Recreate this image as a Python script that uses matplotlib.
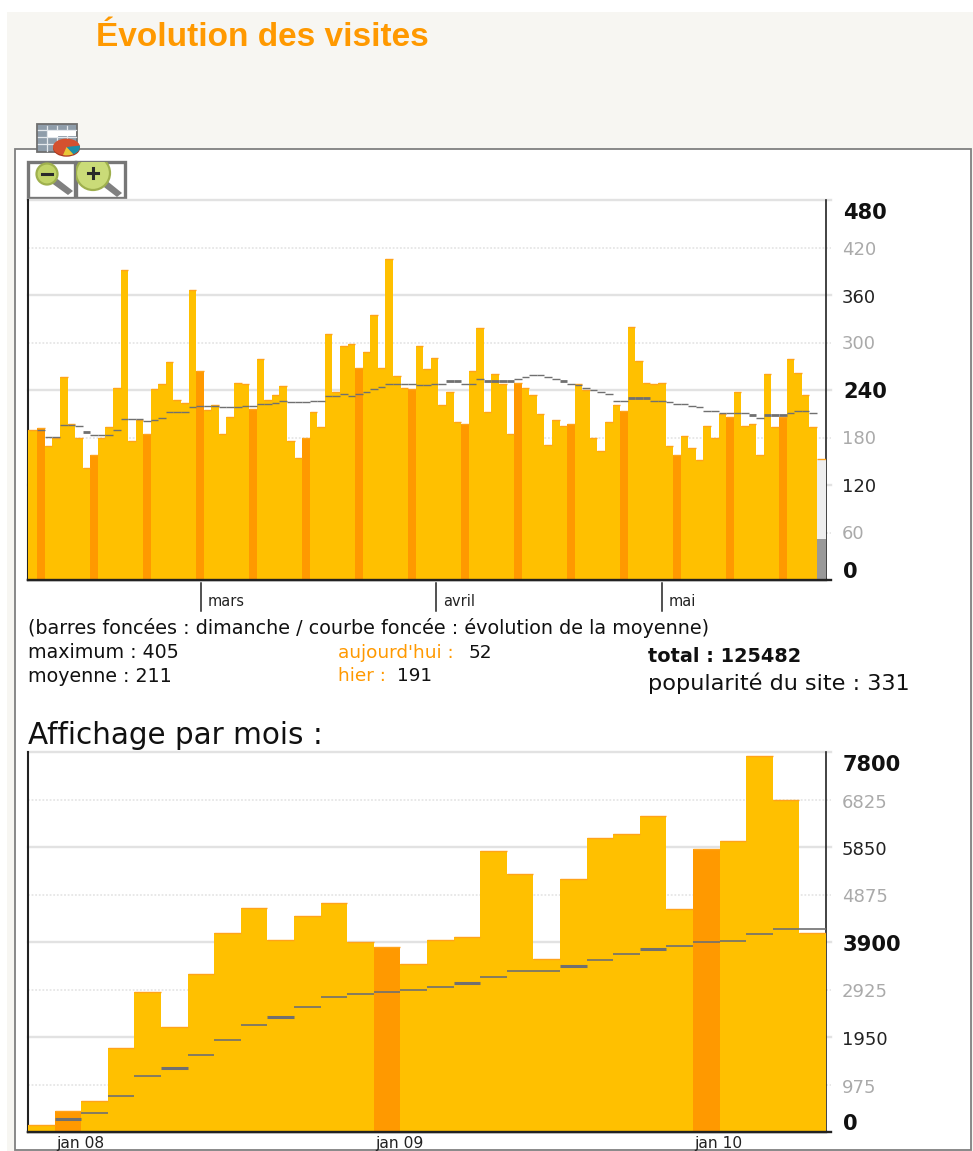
import numpy as np
import matplotlib
matplotlib.use("Agg")
import matplotlib.pyplot as plt
from matplotlib.patches import Rectangle, Circle, Wedge, Polygon, Ellipse
from matplotlib.transforms import Affine2D

W, H = 973, 1151
DPI = 100

# ---- data ----
daily_visits = [189,192,169,180,256,197,180,141,158,180,193,242,392,176,202,184,241,247,275,227,
                223,366,264,215,221,184,206,249,247,216,279,227,234,245,176,154,180,212,193,311,
                238,296,298,268,288,335,268,406,258,243,241,296,266,281,221,238,199,197,264,318,
                212,260,247,184,249,243,234,210,171,202,195,197,247,240,180,163,199,221,214,320,
                277,249,247,249,169,158,182,167,152,195,180,210,206,238,195,197,158,260,193,206,
                279,262,234,193]
today_visits = 52
today_forecast = 153
daily_sundays = [1,8,15,22,29,36,43,50,57,64,71,78,85,92,99]
daily_avg = [None,190,181,181,196,196,194,186.5,183,183,183,190,203,203,203,201,202.5,205,212,212,
             212,218,220,220,220,218,218,218,220,220,222,222,224,226.5,224.5,224.5,224.5,226.5,226.5,233,
             233,235,233,235,237,241,243.5,248,248,248,248,246,246,248,248,252,252,248,248,254,
             251,251,251,251,254,257,259,259,257,254,251,248,246,242,240,237,235,226.5,226.5,230,
             230,230,226.5,226.5,224.5,222,222,220,218,213.5,213.5,211,211,211,211,208,205,208,208,208,
             211,213.5,213.5,211]
daily_avg_thick = [7,55,56,60,61,62,63,70,79,80,81,95,97,98,99]
month_ticks = {"mars": 22.7, "avril": 53.7, "mai": 83.6}

monthly_visits = [144,431,643,1731,2880,2148,3236,4078,4605,3934,4427,4707,3907,3797,3448,3934,
                  4003,5761,5303,3551,5200,6041,6110,6493,4570,5802,5973,7725,6815,4078]
monthly_avg = [None,260,383,732,1149,1307,1574,1888,2203,2360,2559,2764,2833,2867,2908,2976,
               3065,3188,3298,3298,3414,3537,3647,3763,3818,3893,3927,4064,4167,4167]
monthly_avg_thick = [1,5,9,16,20,23]
monthly_dark = [1,13,25]
year_ticks = {"jan 08": 1, "jan 09": 13, "jan 10": 25}

daily_ticks = [480,420,360,300,240,180,120,60,0]
monthly_ticks = [7800,6825,5850,4875,3900,2925,1950,975,0]

# ---- colours ----
BAR = "#FFC000"
DARK = "#FF9900"
CAP = "#FFA31A"
AVG = "#707070"
GRID = "#E2E2E2"
DOT = "#E6E6E6"
PAGE = "#F7F6F2"
FRAME = "#808080"

plt.rcParams["font.family"] = ["DejaVu Sans"]

fig = plt.figure(figsize=(W/DPI, H/DPI), dpi=DPI, facecolor="white")

def fx(x): return x/W
def fy(y): return 1-y/H
def pt(px): return px*72/DPI

# background overlay in pixel coordinates
bg = fig.add_axes([0,0,1,1], zorder=0)
bg.set_xlim(0,W); bg.set_ylim(H,0); bg.axis("off")
bg.add_patch(Rectangle((7,12), W-7, H-12, fc=PAGE, ec="none"))
bg.add_patch(Rectangle((14.5,148.5), 956, 1001, fc="white", ec=FRAME, lw=1.3))

# table + pie icon
bg.add_patch(Rectangle((37,124), 40, 28, fc="#8F9DAA", ec="#6F6F6F", lw=1.3, zorder=3))
for gx in (47,57,67):
    bg.plot([gx,gx],[126,151], color="#E4E8EC", lw=0.9, zorder=4)
for gy in (130,137,144):
    bg.plot([38,76],[gy,gy], color="#E4E8EC", lw=0.9, zorder=4)
bg.add_patch(Rectangle((48,131), 10, 6, fc="white", ec="none", zorder=4))
bg.add_patch(Rectangle((58,131), 18, 5, fc="white", ec="none", zorder=4))
pie = Affine2D().scale(1, 0.62).translate(66.5, 147) + bg.transData
bg.add_patch(Ellipse((66.5,148.2), 27, 17, fc="#A8381F", ec="none", zorder=5))
bg.add_patch(Wedge((0,0),13.5,0,360,fc="#D4512F",ec="none",zorder=5.5,transform=pie))
bg.add_patch(Wedge((0,0),13.5,350,420,fc="#1C8FA8",ec="none",zorder=6,transform=pie))
bg.add_patch(Wedge((0,0),13.5,60,105,fc="#E8C838",ec="none",zorder=6,transform=pie))

# zoom buttons
for x0, x1, lens, r, fill, end in ((28,75,(47,174),10.5,"#C2D468",(70,193)),
                                   (76,125,(93,173),17,"#CADB78",(119,195))):
    box = Rectangle((x0,161.5), x1-x0, 36, fc="white", ec="#777777", lw=2.4, zorder=3)
    bg.add_patch(box)
    clip = Rectangle((x0,161.5), x1-x0, 36, transform=bg.transData)
    h = Polygon([(lens[0]+3,lens[1]+8),(lens[0]+8,lens[1]+3),(end[0]+3,end[1]-2),(end[0]-2,end[1]+2)],
                fc="#808080", ec="none", zorder=4)
    bg.add_patch(h); h.set_clip_path(clip)
    c = Circle(lens, r, fc=fill, ec="#9FB04E", lw=1.6, zorder=5)
    bg.add_patch(c); c.set_clip_path(clip)
    bg.plot([lens[0]-5,lens[0]+5],[lens[1],lens[1]], color="#2A2A2A", lw=2.2, zorder=6)
    if x0 > 50:
        bg.plot([lens[0],lens[0]],[lens[1]-5,lens[1]+5], color="#2A2A2A", lw=2.2, zorder=6)

def make_axes(top, bottom, left=28, right=826):
    return fig.add_axes([fx(left), fy(bottom), (right-left)/W, (bottom-top)/H], zorder=2)

def frame(ax, ymax, ticks):
    ax.patch.set_alpha(0)
    ax.set_ylim(0, ymax)
    ax.set_xticks([]); ax.set_yticks([])
    ax.spines["top"].set_visible(False)
    for s in ("left","bottom","right"):
        ax.spines[s].set_color("#222222")
    ax.spines["left"].set_linewidth(1.5)
    ax.spines["bottom"].set_linewidth(1.7)
    ax.spines["right"].set_linewidth(1.2)
    trans = ax.get_yaxis_transform()
    for i, t in enumerate(ticks):
        solid = i % 2 == 0
        ax.plot([0, 1+5/798], [t, t], transform=trans, clip_on=False,
                color="#222222" if t == 0 else (GRID if solid else DOT),
                lw=1.7 if solid else 1.3,
                ls="-" if solid else (0,(1,1)), zorder=1 if t else 6)

def tick_labels(ticks, ys):
    for i, (t, y) in enumerate(zip(ticks, ys)):
        if i % 4 == 0:
            fig.text(fx(843), fy(y), str(t), fontsize=pt(21), fontweight="bold", color="#111111",
                     va="center", ha="left")
        elif i % 2 == 0:
            fig.text(fx(842), fy(y), str(t), fontsize=pt(18), color="#222222", va="center", ha="left")
        else:
            fig.text(fx(842), fy(y), str(t), fontsize=pt(18), color="#AAAAAA", va="center", ha="left")

# ---- daily chart ----
ax1 = make_axes(200, 580)
XMIN, XMAX = -0.22, 105.2
ax1.set_xlim(XMIN, XMAX)
frame(ax1, 480, daily_ticks)
n = len(daily_visits)
edges = np.arange(n+2, dtype=float)
edges[0] = XMIN
edges[-1] = XMAX
lefts, widths = edges[:-1], np.diff(edges)
colors = [DARK if i in daily_sundays else BAR for i in range(n)]
ax1.bar(lefts[:n], daily_visits, widths[:n], align="edge", color=colors, zorder=3)
ax1.hlines(daily_visits, lefts[:n], lefts[:n]+widths[:n], color=CAP, lw=1.0, zorder=3.5)
ax1.bar(lefts[n], today_forecast, widths[n], align="edge", color="#EEEEEE", zorder=3)
ax1.bar(lefts[n], today_visits, widths[n], align="edge", color="#999999", zorder=3.2)
ax1.hlines(today_forecast, lefts[n], lefts[n]+widths[n], color=CAP, lw=1.0, zorder=3.5)
for i, v in enumerate(daily_avg):
    if v is None: continue
    ax1.hlines(v, lefts[i], lefts[i]+widths[i], color=AVG, lw=2.0 if i in daily_avg_thick else 1.0, zorder=4)
ymark = ax1.get_xaxis_transform()
for lab, x in month_ticks.items():
    ax1.plot([x,x],[-3/380,-31/380], transform=ymark, clip_on=False, color="#222222", lw=1.1)
    ax1.annotate(lab, (x,0), xycoords=ymark, xytext=(6.5,-21.5), textcoords="offset pixels",
                 fontsize=pt(14.5), color="#222222", va="center", ha="left", annotation_clip=False)
tick_labels(daily_ticks, [213,250,298,344,392,439,487,534,572])

# ---- monthly chart ----
ax2 = make_axes(752, 1132)
ax2.set_xlim(0, len(monthly_visits))
frame(ax2, 7800, monthly_ticks)
m = np.arange(len(monthly_visits))
colors2 = [DARK if i in monthly_dark else BAR for i in m]
ax2.bar(m, monthly_visits, 1, align="edge", color=colors2, zorder=3)
ax2.hlines(monthly_visits, m, m+1, color=CAP, lw=1.0, zorder=3.5)
for i, v in enumerate(monthly_avg):
    if v is None: continue
    ax2.hlines(v, i, i+1, color=AVG, lw=2.2 if i in monthly_avg_thick else 1.2, zorder=4)
ymark2 = ax2.get_xaxis_transform()
for lab, x in year_ticks.items():
    ax2.annotate(lab, (x+1,0), xycoords=ymark2, xytext=(-1,-11.5), textcoords="offset pixels",
                 fontsize=pt(15.5), color="#222222", va="center", ha="center",
                 annotation_clip=False)

# ---- texts ----
def txt(x, y, s, size, color="#111111", **kw):
    return fig.text(fx(x), fy(y), s, fontsize=pt(size), color=color, va="center", ha="left", **kw)

fig.text(fx(96), fy(38), "Évolution des visites", fontsize=pt(33.4), fontweight="bold",
         color=DARK, va="center", ha="left", family=["Liberation Sans"])
txt(28, 628, "(barres foncées : dimanche / courbe foncée : évolution de la moyenne)", 19.2)
txt(28, 653, "maximum : 405", 19)
txt(28, 676, "moyenne : 211", 19)
txt(338, 653, "aujourd'hui : ", 18.5, color=DARK)
txt(469, 653, "52", 18.5)
txt(338, 676, "hier : ", 18.5, color=DARK)
txt(397, 676, "191", 18.5)
txt(648, 656, "total : 125482", 19.3, fontweight="bold")
txt(648, 683, "popularité du site : 331", 22.4)
txt(28, 735, "Affichage par mois :", 29.5)

tick_labels(monthly_ticks, [765,803,850,897,945,992,1040,1088,1124])

fig.savefig("out.png", dpi=DPI, facecolor=fig.get_facecolor())
